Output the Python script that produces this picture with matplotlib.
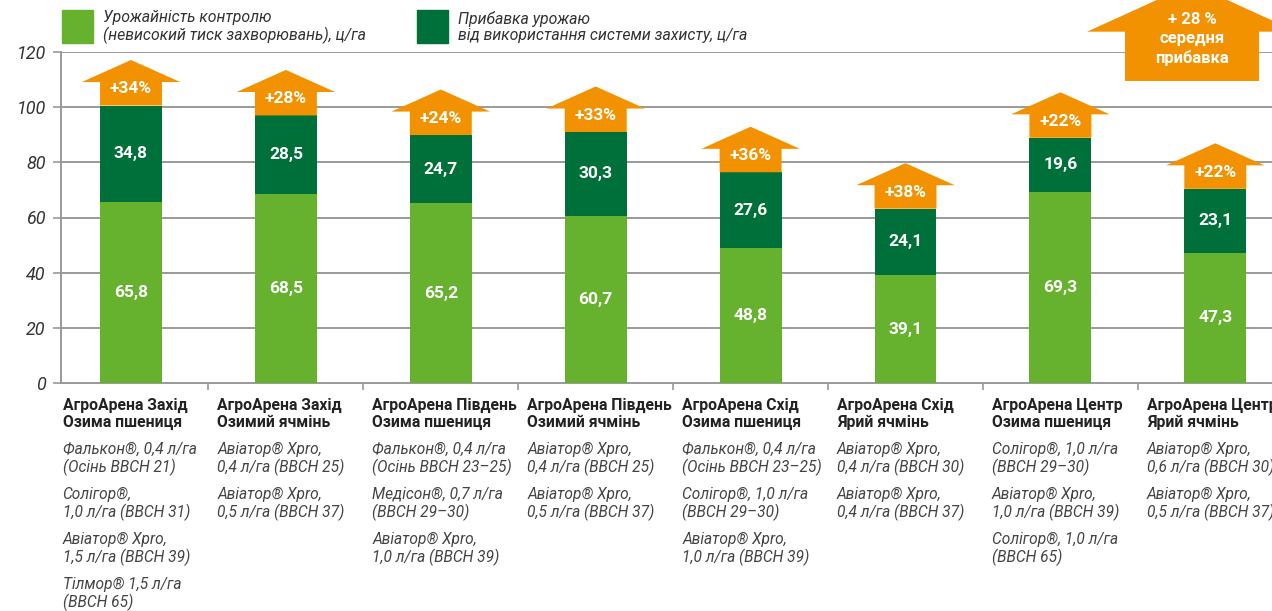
import matplotlib
matplotlib.use("Agg")
import matplotlib.pyplot as plt
from matplotlib.patches import Polygon

plt.rcParams['font.family'] = ['Roboto', 'DejaVu Sans']

# data
sites = ["АгроАрена Захід", "АгроАрена Захід", "АгроАрена Південь", "АгроАрена Південь",
         "АгроАрена Схід", "АгроАрена Схід", "АгроАрена Центр", "АгроАрена Центр"]
crops = ["Озима пшениця", "Озимий ячмінь", "Озима пшениця", "Озимий ячмінь",
         "Озима пшениця", "Ярий ячмінь", "Озима пшениця", "Ярий ячмінь"]
control = [65.8, 68.5, 65.2, 60.7, 48.8, 39.1, 69.3, 47.3]
gain = [34.8, 28.5, 24.7, 30.3, 27.6, 24.1, 19.6, 23.1]
gain_pct = ["+34%", "+28%", "+24%", "+33%", "+36%", "+38%", "+22%", "+22%"]
treatments = [
    ["Фалькон®, 0,4 л/га\n(Осінь BBCH 21)", "Солігор®,\n1,0 л/га (BBCH 31)",
     "Авіатор® Xpro,\n1,5 л/га (BBCH 39)", "Тілмор® 1,5 л/га\n(BBCH 65)"],
    ["Авіатор® Xpro,\n0,4 л/га (BBCH 25)", "Авіатор® Xpro,\n0,5 л/га (BBCH 37)"],
    ["Фалькон®, 0,4 л/га\n(Осінь BBCH 23–25)", "Медісон®, 0,7 л/га\n(BBCH 29–30)",
     "Авіатор® Xpro,\n1,0 л/га (BBCH 39)"],
    ["Авіатор® Xpro,\n0,4 л/га (BBCH 25)", "Авіатор® Xpro,\n0,5 л/га (BBCH 37)"],
    ["Фалькон®, 0,4 л/га\n(Осінь BBCH 23–25)", "Солігор®, 1,0 л/га\n(BBCH 29–30)",
     "Авіатор® Xpro,\n1,0 л/га (BBCH 39)"],
    ["Авіатор® Xpro,\n0,4 л/га (BBCH 30)", "Авіатор® Xpro,\n0,4 л/га (BBCH 37)"],
    ["Солігор®, 1,0 л/га\n(BBCH 29–30)", "Авіатор® Xpro,\n1,0 л/га (BBCH 39)",
     "Солігор®, 1,0 л/га\n(BBCH 65)"],
    ["Авіатор® Xpro,\n0,6 л/га (BBCH 30)", "Авіатор® Xpro,\n0,5 л/га (BBCH 37)"],
]
avg_gain = "+ 28 %\nсередня\nприбавка"
legend_labels = ["Урожайність контролю\n(невисокий тиск захворювань), ц/га",
                 "Прибавка урожаю\nвід використання системи захисту, ц/га"]
yticks = [0, 20, 40, 60, 80, 100, 120]

LIGHT = "#66b22e"
DARK = "#00703a"
ORANGE = "#f39200"
GRID = "#9a9a9a"
W, H = 1272, 611

fig = plt.figure(figsize=(W / 100, H / 100), dpi=100)
ax = fig.add_axes([61 / W, 1 - 383 / H, (W - 61) / W, 331 / H])

x = list(range(len(control)))
bw = 0.40
ax.bar(x, control, width=bw, color=LIGHT, zorder=3)
ax.bar(x, gain, width=bw, bottom=control, color=DARK, zorder=3)

for i in x:
    top = control[i] + gain[i]
    # orange arrow on top of each bar
    body, head, hw = 8.5, 8.0, 0.318
    pts = [(i - bw / 2, top), (i - bw / 2, top + body), (i - hw, top + body),
           (i, top + body + head), (i + hw, top + body), (i + bw / 2, top + body),
           (i + bw / 2, top)]
    ax.add_patch(Polygon(pts, closed=True, facecolor=ORANGE, edgecolor="none", zorder=3))
    ax.text(i, top + 6.0, gain_pct[i], ha="center", va="center", color="white",
            fontsize=12.5, fontweight="bold", zorder=4)
    ax.text(i, control[i] / 2, f"{control[i]:.1f}".replace(".", ","), ha="center",
            va="center", color="white", fontsize=12.5, fontweight="bold", zorder=4)
    ax.text(i, control[i] + gain[i] / 2, f"{gain[i]:.1f}".replace(".", ","), ha="center",
            va="center", color="white", fontsize=12.5, fontweight="bold", zorder=4)

ax.set_ylim(0, 120)
ax.set_xlim((61 - 131) / 154.9, (W - 131) / 154.9)
ax.set_yticks(yticks)
ax.set_yticklabels([str(v) for v in yticks], fontsize=13, style="italic", color="#333333")
ax.set_xticks([i + 0.5 for i in x[:-1]])
ax.set_xticklabels([])
ax.tick_params(axis="y", length=6, color=GRID, width=1.2, pad=5)
ax.tick_params(axis="x", length=5, color=GRID, width=1.2)
ax.yaxis.grid(True, color=GRID, linewidth=1.4, zorder=0)
ax.set_axisbelow(True)
for s in ["top", "right"]:
    ax.spines[s].set_visible(False)
for s in ["left", "bottom"]:
    ax.spines[s].set_color(GRID)
    ax.spines[s].set_linewidth(1.4)

# category labels under the axis
for i in x:
    lx = (131 + 154.9 * (i - 0.5) + 9) / W
    fig.text(lx, 1 - 414 / H, sites[i] + "\n" + crops[i], ha="left", va="center",
             fontsize=11.3, fontweight="bold", color="#222222", linespacing=1.15)
    for k, t in enumerate(treatments[i]):
        fig.text(lx, 1 - (459 + 45 * k) / H, t, ha="left", va="center",
                 fontsize=11.2, style="italic", color="#444444", linespacing=1.15)

# legend
for lx, col, lab in [(62, LIGHT, legend_labels[0]), (417, DARK, legend_labels[1])]:
    fig.add_artist(plt.Rectangle((lx / W, 1 - 43 / H), 31 / W, 33 / H,
                                 transform=fig.transFigure, color=col))
    fig.text((lx + 41) / W, 1 - 27 / H, lab, ha="left", va="center", fontsize=11.4,
             style="italic", color="#333333", linespacing=1.1)

# big average arrow
big = [(1125, 81), (1125, 31.7), (1087, 31.7), (1192, -16), (1297, 31.7),
       (1259, 31.7), (1259, 81)]
fig.add_artist(Polygon([(px / W, 1 - py / H) for px, py in big], closed=True,
                       transform=fig.transFigure, facecolor=ORANGE, edgecolor="none"))
fig.text(1192 / W, 1 - 39 / H, avg_gain, ha="center", va="center", color="white",
         fontsize=12, fontweight="bold", linespacing=1.35)

fig.savefig("out.png", dpi=100)
